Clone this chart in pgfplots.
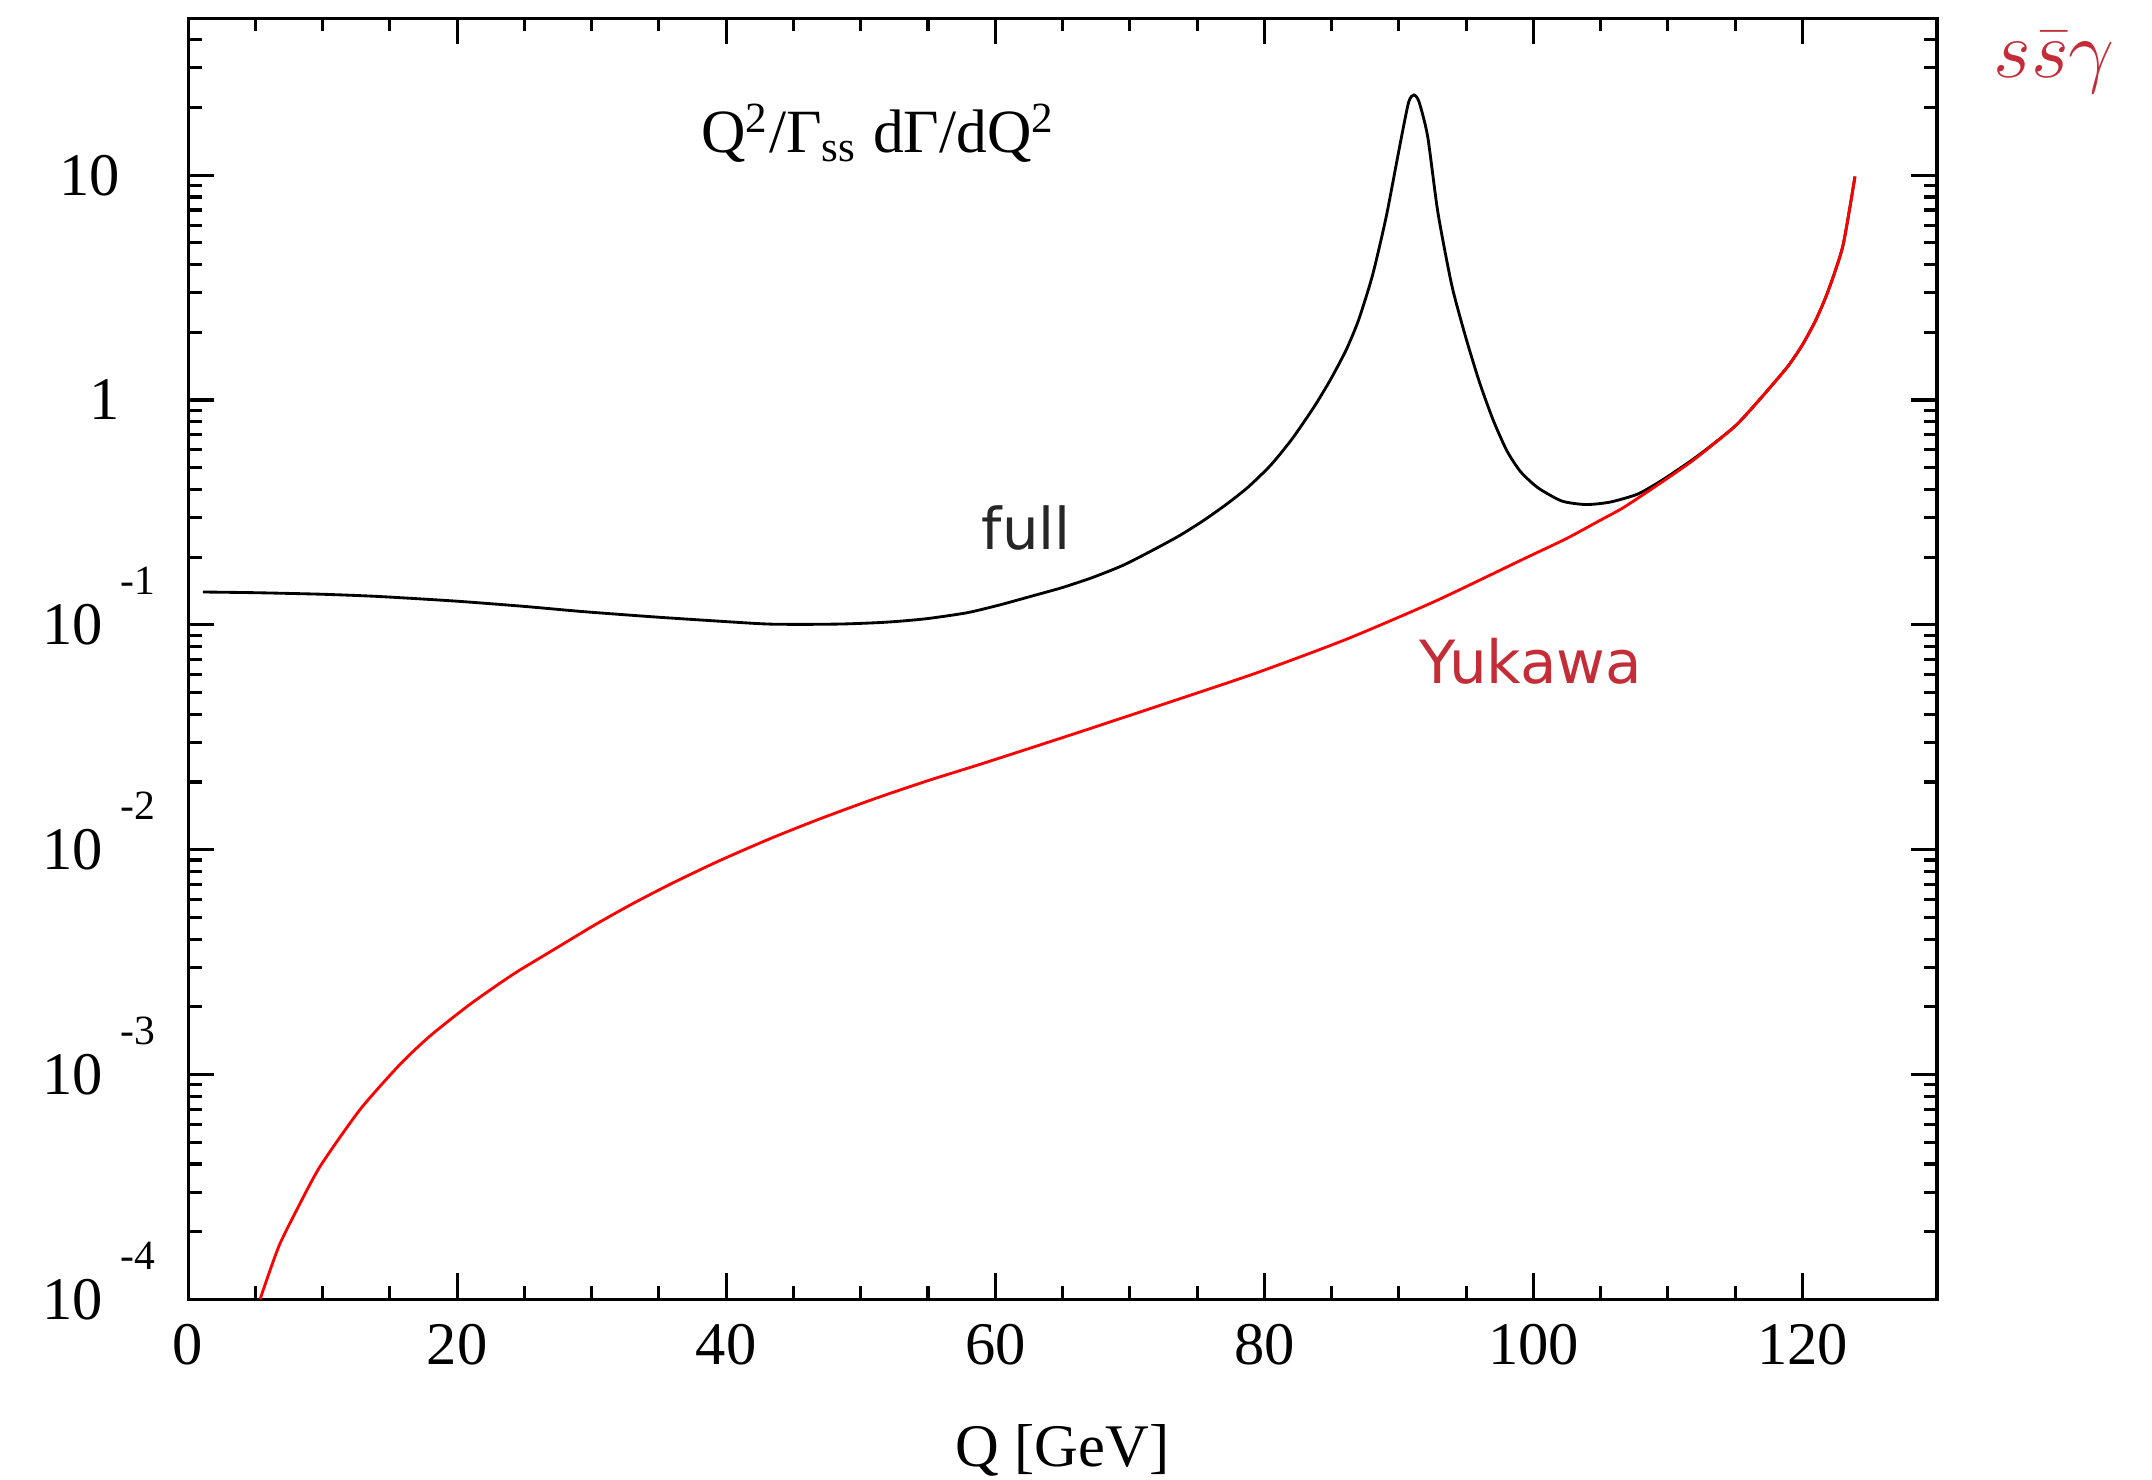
\documentclass[border=0pt]{standalone}
\usepackage{fontspec}
\setmainfont{Liberation Serif}
\newfontfamily\lblfont{DejaVu Sans}
\usepackage{pgfplots}
\pgfplotsset{compat=1.18}
\definecolor{lblred}{RGB}{196,45,55}
\newcommand\plainlab[1]{#1\rule{0.26cm}{0pt}}
\newcommand\explab[1]{10\rule{0.13cm}{0pt}\smash{\raisebox{0.37cm}{\fontsize{8.8}{10}\selectfont #1}}}

\pgfplotstableread{
Q v
1.1 0.140
5 0.139
10 0.1368
14.2 0.1337
20 0.1274
25 0.1208
29.3 0.1146
35 0.1081
41.4 0.1021
43.4 0.1007
46.0 0.1005
48.7 0.1009
51.3 0.1023
52.9 0.1038
55 0.1067
57.9 0.1132
60.3 0.1225
62.9 0.1352
65 0.1466
67.2 0.1622
69.5 0.1841
71.8 0.2163
73.7 0.2495
75.45 0.2904
77.2 0.3443
78.8 0.4102
80.5 0.5152
82.1 0.6761
83.7 0.9333
84.7 1.170
85.25 1.340
86.1 1.679
87.0 2.265
88.05 3.606
89.07 6.592
90.1 13.84
90.73 21.18
91.12 22.75
91.5 21.18
92.14 14.86
92.9 6.823
93.93 3.243
94.96 1.910
95.98 1.205
97.0 0.8166
98.03 0.5943
99.05 0.4797
100.33 0.4074
102.1 0.3556
103.9 0.3428
105.7 0.3516
107.76 0.3819
109.55 0.4395
111.6 0.5309
113.1 0.6194
115.1 0.7762
117.0 1.035
118.9 1.409
120.0 1.762
121.0 2.275
121.9 3.048
123.0 4.842
123.9 9.863
}\fulltab

\pgfplotstableread{
Q v
5.35 1.0e-4
6.1 1.35e-4
6.84 1.774e-4
8.07 2.495e-4
9.81 3.899e-4
12.78 6.982e-4
15.75 1.109e-3
17.98 1.483e-3
20.95 2.051e-3
24.17 2.793e-3
27.39 3.656e-3
30.36 4.677e-3
33.0 5.733e-3
36.0 7.101e-3
39.5 8.935e-3
43.3 1.122e-2
47.0 1.374e-2
51.1 1.691e-2
55.0 2.028e-2
59.3 2.443e-2
66.2 3.327e-2
72.8 4.498e-2
79.4 6.109e-2
86.1 8.630e-2
92.7 0.1274
99.3 0.1968
102.4 0.2410
104.9 0.2904
106.7 0.3327
109.3 0.4217
111.6 0.5248
113.1 0.6166
115.1 0.7762
117.0 1.035
118.9 1.409
120.0 1.762
121.0 2.275
121.9 3.048
123.0 4.842
123.9 9.863
}\yuktab

\begin{document}
\begin{tikzpicture}
\useasboundingbox (-1.398,-1.338) rectangle (14.598,9.658);
\begin{axis}[
  scale only axis, width=13.0cm, height=9.524cm,
  xmin=0, xmax=130, ymode=log, ymin=1e-4, ymax=50,
  axis line style={line width=0.65pt},
  every tick/.style={black, line width=0.65pt},
  tick align=inside,
  major tick length=0.195cm, minor tick length=0.1cm,
  xtick={0,20,40,60,80,100,120},
  xticklabels={0,20,40,60,80,100,120},
  minor x tick num=3,
  ytick={1e-4,1e-3,1e-2,1e-1,1,10},
  yticklabels={\explab{-4},\explab{-3},\explab{-2},\explab{-1},\plainlab{1},\plainlab{10}},
  minor ytick={2e-4,3e-4,4e-4,5e-4,6e-4,7e-4,8e-4,9e-4,
               2e-3,3e-3,4e-3,5e-3,6e-3,7e-3,8e-3,9e-3,
               2e-2,3e-2,4e-2,5e-2,6e-2,7e-2,8e-2,9e-2,
               0.2,0.3,0.4,0.5,0.6,0.7,0.8,0.9,
               2,3,4,5,6,7,8,9,20,30,40},
  ticklabel style={font=\fontsize{12.8}{15}\selectfont},
  yticklabel style={xshift=-0.12cm},
  xticklabel style={yshift=-0.06cm},
  xlabel={Q [GeV]},
  xlabel style={font=\fontsize{12.8}{15}\selectfont, at={(axis description cs:0.5,-0.085)}, anchor=north},
  clip=false,
]
\addplot[black, line width=0.6pt, smooth, tension=0.4] table[x=Q,y=v] {\fulltab};
\addplot[red, line width=0.6pt, smooth, tension=0.4] table[x=Q,y=v] {\yuktab};
\node[font=\fontsize{13}{15}\selectfont] at (axis cs:51.3,15.4) {Q\textsuperscript{2}/Γ\textsubscript{ss} dΓ/dQ\textsuperscript{2}};
\node[font=\lblfont\fontsize{12.2}{14}\selectfont, text=black!85] at (axis cs:62.3,0.27) {full};
\node[font=\lblfont\fontsize{12.6}{14}\selectfont, text=lblred] at (axis cs:99.8,0.0687) {Yukawa};
\node[font=\fontsize{17}{20}\selectfont, text=lblred, anchor=base] at (axis cs:138.7,27.2) {$s\bar{s}\gamma$};
\end{axis}
\end{tikzpicture}
\end{document}
